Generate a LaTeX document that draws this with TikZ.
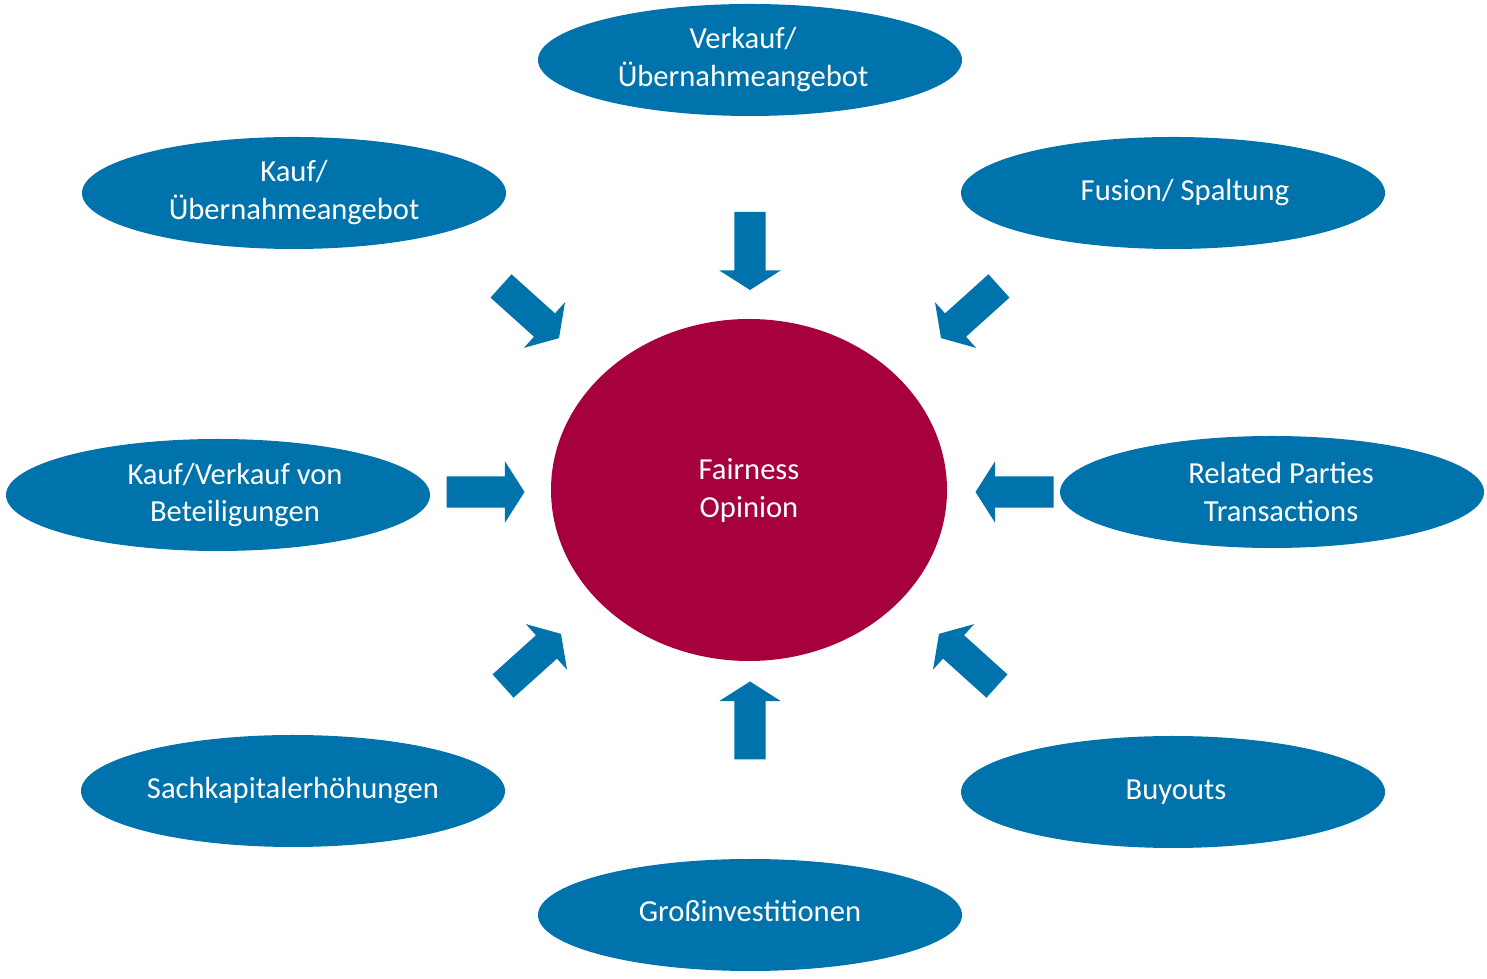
\documentclass[tikz,border=0pt]{standalone}
\usepackage{fontspec}
\setmainfont{Carlito}
\usepackage{tikz}
\usetikzlibrary{shapes.geometric,shapes.arrows}
\definecolor{fobblue}{RGB}{0,114,172}
\definecolor{fobred}{RGB}{166,0,62}
\tikzset{
bubble/.style={shape=ellipse, fill=fobblue, inner sep=0pt, minimum width=4.24cm, minimum height=1.12cm, text=white, align=center, font=\fontsize{8.7}{10.8}\selectfont},
blockarrow/.style={shape=single arrow, fill=fobblue, inner xsep=0pt, inner ysep=0.15cm, single arrow head extend=0.15cm, single arrow tip angle=115, minimum height=0.78cm}}

\begin{document}
\begin{tikzpicture}

                \useasboundingbox (0,0) rectangle (14.87,9.79);

                \node[shape=ellipse, fill=fobred, inner sep=0pt, minimum width=3.96cm, minimum height=3.42cm, text=white, align=center, font=\fontsize{8.7}{10.8}\selectfont] (FO) at (7.49,4.89) {Fairness\\ Opinion};

                \node[bubble] (A) at (7.50,9.19) {\raisebox{0.05cm}{\hspace*{-0.14cm}Verkauf/}\\\raisebox{0.05cm}{\hspace*{-0.14cm}Übernahmeangebot}};
                \node[bubble] (B) at (2.94,7.86) {Kauf/\\Übernahmeangebot};
                \node[bubble] (C) at (11.73,7.86) {\raisebox{-0.07cm}{\hspace*{0.24cm}Fusion/ Spaltung}};
                \node[bubble] (D) at (2.18,4.84) {\hspace*{0.34cm}Kauf/Verkauf von\\\hspace*{0.34cm}Beteiligungen};
                \node[bubble] (E) at (12.72,4.87) {\hspace*{0.18cm}Related Parties\\\hspace*{0.18cm}Transactions};
                \node[bubble] (F) at (2.93,1.88) {\raisebox{0.03cm}{Sachkapitalerhöhungen}};
                \node[bubble] (G) at (11.73,1.87) {\raisebox{-0.04cm}{\hspace*{0.06cm}Buyouts}};
                \node[bubble] (H) at (7.50,0.64) {\raisebox{0.08cm}{Großinvestitionen}};

                \node[blockarrow, rotate=-90] (a1) at (7.50,7.33) {};
                \node[blockarrow, rotate=-42] (a2) at (5.263,6.703) {};
                \node[blockarrow, rotate=-138] (a3) at (9.737,6.703) {};
                \node[blockarrow] (a4) at (4.805,4.87) {};
                \node[blockarrow, rotate=180] (a5) at (10.195,4.87) {};
                \node[blockarrow, rotate=42] (a6) at (5.283,3.157) {};
                \node[blockarrow, rotate=138] (a7) at (9.717,3.157) {};
                \node[blockarrow, rotate=90] (a8) at (7.50,2.535) {};

            \end{tikzpicture}
\end{document}
